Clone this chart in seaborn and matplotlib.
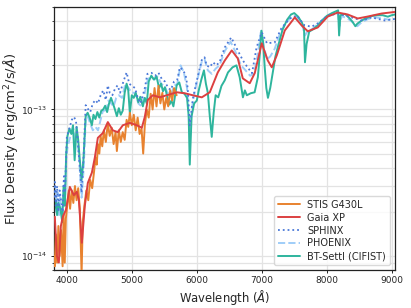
import matplotlib
matplotlib.use("Agg")
import matplotlib.pyplot as plt
import numpy as np
import seaborn as sns

# flux values are in units of 1e-13 erg/cm2/s/A
stis_wave = [3800, 3815, 3830, 3850, 3870, 3890, 3910, 3935, 3950, 3968, 3985, 4010, 4030, 4050,
             4075, 4100, 4125, 4150, 4175, 4200, 4227, 4245, 4270, 4300, 4330, 4360, 4390, 4420,
             4440, 4460, 4480, 4500, 4520, 4545, 4570, 4600, 4630, 4660, 4690, 4720, 4750, 4770,
             4800, 4830, 4860, 4890, 4920, 4945, 4970, 5000, 5030, 5060, 5090, 5120, 5150, 5175,
             5200, 5230, 5260, 5290, 5320, 5350, 5380, 5410, 5440, 5470, 5500, 5530, 5560, 5590,
             5620, 5650, 5690]
stis_flux = [0.10, 0.085, 0.14, 0.09, 0.16, 0.10, 0.15, 0.085, 0.19, 0.09, 0.18, 0.23, 0.28, 0.21,
             0.28, 0.23, 0.30, 0.24, 0.29, 0.21, 0.075, 0.17, 0.22, 0.28, 0.24, 0.33, 0.29, 0.38,
             0.47, 0.42, 0.58, 0.50, 0.66, 0.56, 0.72, 0.60, 0.80, 0.66, 0.75, 0.58, 0.70, 0.52,
             0.72, 0.60, 0.70, 0.62, 0.85, 0.76, 0.95, 0.78, 0.92, 0.72, 0.88, 0.68, 0.74, 0.50,
             0.78, 1.00, 0.88, 1.28, 1.00, 1.40, 1.05, 1.45, 1.10, 1.30, 1.00, 1.20, 1.05, 1.35,
             1.15, 1.40, 1.25]

gaia_wave = [3815, 3846, 3877, 3908, 3938, 3985, 4046, 4108, 4154, 4185, 4231, 4277, 4323, 4385,
             4431, 4477, 4554, 4631, 4708, 4785, 4862, 4969, 5077, 5154, 5200, 5246, 5323, 5431,
             5538, 5692, 5815, 5938, 6077, 6200, 6323, 6431, 6538, 6631, 6708, 6815, 6892, 7000,
             7092, 7154, 7231, 7354, 7508, 7615, 7708, 7862, 8015, 8169, 8323, 8477, 8631, 8846,
             9046]
gaia_flux = [0.185, 0.10, 0.09, 0.16, 0.185, 0.206, 0.296, 0.26, 0.274, 0.24, 0.123, 0.22, 0.315,
             0.37, 0.47, 0.64, 0.69, 0.82, 0.72, 0.70, 0.78, 0.81, 0.78, 0.75, 0.89, 1.16, 1.25,
             1.21, 1.25, 1.31, 1.29, 1.25, 1.21, 1.31, 1.79, 2.16, 2.53, 2.23, 1.63, 1.51, 1.77,
             2.83, 2.16, 1.94, 2.34, 3.46, 4.25, 3.74, 3.42, 3.63, 4.31, 4.59, 4.45, 4.18, 4.31,
             4.52, 4.63]

sphinx_wave = [3800, 3815, 3830, 3850, 3870, 3890, 3910, 3935, 3955, 3970, 3990, 4000, 4030, 4077,
               4108, 4140, 4170, 4200, 4227, 4260, 4290, 4330, 4360, 4400, 4440, 4480, 4520, 4560,
               4600, 4630, 4660, 4700, 4740, 4780, 4820, 4870, 4920, 4960, 5000, 5050, 5090, 5130,
               5170, 5200, 5240, 5300, 5360, 5410, 5460, 5510, 5560, 5600, 5650, 5700, 5740, 5790,
               5830, 5860, 5892, 5940, 5990, 6030, 6080, 6120, 6150, 6200, 6250, 6300, 6350, 6430,
               6530, 6630, 6710, 6780, 6850, 6920, 7000, 7080, 7200, 7300, 7430, 7540, 7660, 7770,
               7890, 8010, 8170, 8380, 8540, 8690, 8890, 9050]
sphinx_flux = [0.25, 0.32, 0.22, 0.30, 0.20, 0.28, 0.24, 0.20, 0.35, 0.27, 0.48, 0.65, 0.72, 0.85,
               0.89, 0.84, 0.60, 0.40, 0.27, 0.50, 1.07, 1.00, 0.96, 1.10, 1.16, 1.10, 1.25, 1.35,
               1.16, 1.46, 1.30, 1.25, 1.38, 1.46, 1.30, 1.55, 1.79, 1.50, 1.45, 1.40, 1.20, 1.10,
               1.25, 1.40, 1.75, 1.78, 1.70, 1.78, 1.62, 1.55, 1.40, 1.36, 1.55, 1.60, 1.94, 1.85,
               1.70, 1.40, 0.78, 1.19, 1.50, 1.79, 2.20, 2.27, 2.00, 1.94, 2.10, 2.00, 2.10, 2.65,
               3.10, 2.53, 2.16, 1.94, 1.77, 2.65, 3.36, 2.83, 2.87, 3.57, 4.18, 4.38, 3.74, 3.68,
               3.93, 4.38, 4.52, 4.25, 4.05, 4.25, 4.05, 4.15]

phoenix_wave = [3800, 3820, 3840, 3860, 3880, 3900, 3935, 3955, 3970, 3990, 4010, 4040, 4070, 4100,
                4130, 4160, 4190, 4227, 4260, 4290, 4320, 4360, 4400, 4440, 4480, 4520, 4560, 4600,
                4640, 4680, 4720, 4760, 4800, 4850, 4900, 4950, 5000, 5050, 5100, 5150, 5200, 5250,
                5300, 5350, 5400, 5450, 5500, 5550, 5600, 5650, 5700, 5750, 5800, 5850, 5892, 5930,
                5980, 6030, 6080, 6120, 6170, 6230, 6290, 6350, 6430, 6520, 6600, 6680, 6750, 6820,
                6880, 6940, 6990, 7030, 7080, 7130, 7200, 7280, 7350, 7440, 7530, 7620, 7665, 7700,
                7780, 7870, 7960, 8060, 8170, 8195, 8230, 8330, 8430, 8470, 8540, 8640, 8740, 8850,
                8950, 9050]
phoenix_flux = [0.22, 0.30, 0.20, 0.27, 0.19, 0.25, 0.17, 0.30, 0.22, 0.45, 0.55, 0.62, 0.70, 0.74,
                0.62, 0.66, 0.45, 0.25, 0.40, 0.85, 0.90, 0.80, 0.72, 0.76, 0.72, 0.85, 1.00, 0.95,
                1.15, 1.10, 1.05, 1.20, 1.25, 1.20, 1.50, 1.40, 1.30, 1.30, 1.10, 1.05, 1.30, 1.62,
                1.66, 1.60, 1.68, 1.50, 1.45, 1.30, 1.25, 1.45, 1.50, 2.00, 1.80, 1.40, 0.70, 1.05,
                1.40, 1.75, 2.15, 2.20, 1.85, 1.75, 1.90, 2.00, 2.50, 2.90, 2.45, 2.00, 1.85, 1.70,
                1.75, 2.40, 3.50, 2.70, 2.20, 2.30, 2.60, 3.30, 3.80, 4.20, 4.30, 3.80, 3.20, 3.40,
                3.55, 3.85, 4.20, 4.40, 4.50, 3.70, 4.35, 4.15, 3.85, 3.70, 3.95, 4.15, 4.25, 4.20,
                4.10, 4.15]

settl_wave = [3800, 3830, 3850, 3870, 3900, 3930, 3950, 3970, 3990, 4010, 4040, 4070, 4095, 4120,
              4150, 4175, 4200, 4227, 4255, 4290, 4320, 4350, 4385, 4410, 4440, 4470, 4500, 4530,
              4560, 4590, 4620, 4650, 4680, 4710, 4740, 4770, 4800, 4830, 4860, 4890, 4920, 4945,
              4970, 5000, 5030, 5060, 5100, 5130, 5170, 5200, 5230, 5260, 5300, 5340, 5380, 5420,
              5450, 5480, 5510, 5550, 5580, 5610, 5640, 5690, 5730, 5770, 5810, 5850, 5875, 5892,
              5920, 5960, 6000, 6030, 6070, 6110, 6140, 6170, 6200, 6230, 6260, 6290, 6330, 6380,
              6430, 6480, 6550, 6610, 6660, 6710, 6740, 6770, 6830, 6890, 6940, 6970, 6995, 7020,
              7045, 7070, 7095, 7130, 7170, 7210, 7260, 7320, 7390, 7450, 7500, 7560, 7620, 7650,
              7665, 7690, 7730, 7800, 7860, 7930, 8000, 8080, 8150, 8175, 8190, 8210, 8280, 8350,
              8400, 8440, 8470, 8520, 8580, 8640, 8700, 8780, 8860, 8940, 9000, 9050]
settl_flux = [0.20, 0.24, 0.19, 0.23, 0.21, 0.17, 0.30, 0.22, 0.50, 0.66, 0.74, 0.68, 0.78, 0.45,
              0.76, 0.62, 0.45, 0.33, 0.45, 0.90, 0.95, 0.88, 0.78, 0.92, 0.86, 0.96, 0.88, 0.98,
              1.00, 1.06, 0.96, 1.10, 1.20, 1.10, 1.00, 0.90, 1.02, 0.92, 0.98, 1.30, 1.50, 1.35,
              0.94, 1.25, 1.20, 1.30, 1.12, 1.22, 1.05, 1.20, 1.10, 1.55, 1.70, 1.60, 1.68, 1.40,
              1.50, 1.33, 1.42, 1.20, 1.08, 1.15, 1.05, 1.46, 1.53, 1.31, 1.28, 1.20, 0.90, 0.42,
              0.90, 1.10, 1.15, 1.35, 1.60, 1.85, 1.50, 1.30, 0.90, 0.65, 0.95, 1.25, 1.21, 1.45,
              1.58, 1.79, 1.94, 2.00, 1.66, 1.21, 1.35, 1.25, 1.29, 1.31, 1.66, 2.40, 3.45, 2.90,
              1.95, 1.40, 1.20, 1.40, 1.80, 2.30, 2.80, 3.50, 4.10, 4.45, 4.55, 4.30, 3.90, 3.60,
              2.10, 2.80, 3.40, 3.55, 3.75, 4.05, 4.35, 4.55, 4.70, 4.75, 3.20, 4.40, 4.50, 4.20,
              3.95, 3.70, 3.85, 4.00, 4.15, 4.25, 4.35, 4.40, 4.40, 4.30, 4.40, 4.45]

series = [
    ("STIS G430L", stis_wave, stis_flux, "#e8822f", "-", 1.4, 4),
    ("Gaia XP", gaia_wave, gaia_flux, "#dc4040", "-", 1.4, 5),
    ("SPHINX", sphinx_wave, sphinx_flux, "#4a78d8", ":", 1.3, 3),
    ("PHOENIX", phoenix_wave, phoenix_flux, "#9fcdf8", "--", 1.4, 1),
    ("BT-Settl (CIFIST)", settl_wave, settl_flux, "#2eb59d", "-", 1.4, 2),
]

sns.set_style("ticks")
plt.rcParams["font.family"] = ["DejaVu Sans"]

fig = plt.figure(figsize=(4.11, 3.08), dpi=100)
ax = fig.add_axes([0.131, 0.123, 0.830, 0.854])

for name, wave, flux, color, ls, lw, z in series:
    sns.lineplot(x=np.array(wave), y=np.array(flux) * 1e-13, ax=ax, color=color,
                 linestyle=ls, linewidth=lw, zorder=z, estimator=None, label=name)

ax.set_yscale("log")
ax.set_xlim(3800, 9050)
ax.set_ylim(8e-15, 5e-13)
ax.set_xticks([4000, 5000, 6000, 7000, 8000, 9000])
ax.set_yticks([1e-14, 1e-13])
ax.yaxis.set_minor_formatter(matplotlib.ticker.NullFormatter())
ax.grid(True, which="major", color="#e3e3e3", linewidth=0.9)
ax.grid(True, which="minor", axis="y", color="#e3e3e3", linewidth=0.9)
ax.set_axisbelow(True)
ax.tick_params(labelsize=6.5, length=2.5, width=0.7, pad=2)
ax.tick_params(which="minor", length=1.5, width=0.6)
for sp in ax.spines.values():
    sp.set_color("#222222")
    sp.set_linewidth(0.9)

ax.set_xlabel("Wavelength ($\\AA$)", fontsize=8.4, labelpad=2)
ax.set_ylabel("Flux Density (erg/cm$^2$/s/$\\AA$)", fontsize=9.4, labelpad=1)

ax.legend(loc="lower right", fontsize=7, frameon=True, fancybox=True,
          framealpha=0.8, edgecolor="#d0d0d0", handlelength=2.2, borderpad=0.4,
          labelspacing=0.3)

fig.savefig("out.png", dpi=100)
